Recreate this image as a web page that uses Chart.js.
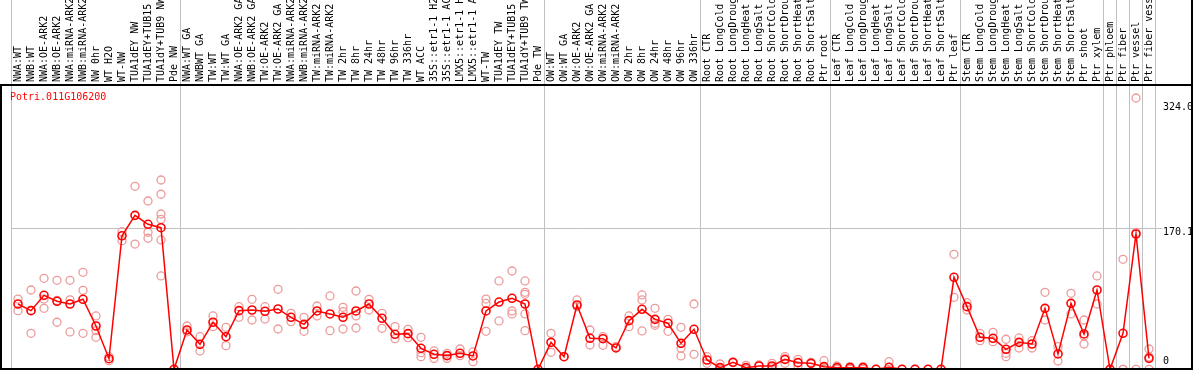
<!DOCTYPE html>
<html>
<head>
<meta charset="utf-8">
<script src="https://cdn.jsdelivr.net/npm/chart.js@4/dist/chart.umd.min.js"></script>
<style>
html, body { margin: 0; padding: 0; background: #fff; }
</style>
</head>
<body>
<canvas id="expChart" width="1194" height="370"></canvas>
<script>
// gene shown in the top left corner
var geneName = 'Potri.011G106200';

var sampleLabels = [
	'NWA:WT', 'NWB:WT', 'NWA:OE-ARK2', 'NWB:OE-ARK2', 'NWA:miRNA-ARK2', 'NWB:miRNA-ARK2',
	'NW 0hr', 'WT H2O', 'WT-NW', 'TUA1dEY NW', 'TUA1dEY+TUB15 NW', 'TUA1dY+TUB9 NW', 'Pde NW',
	'NWA:WT GA', 'NWBWT GA', 'TW:WT', 'TW:WT GA', 'NWA:OE-ARK2 GA', 'NWB:OE-ARK2 GA',
	'TW:OE-ARK2', 'TW:OE-ARK2 GA', 'NWA:miRNA-ARK2', 'NWB:miRNA-ARK2', 'TW:miRNA-ARK2', 'TW:miRNA-ARK2',
	'TW 2hr', 'TW 8hr', 'TW 24hr', 'TW 48hr', 'TW 96hr', 'TW 336hr', 'WT ACC',
	'35S::etr1-1 H2O', '35S::etr1-1 ACC', 'LMX5::etr1-1 H2O', 'LMX5::etr1-1 ACC',
	'WT-TW', 'TUA1dEY TW', 'TUA1dEY+TUB15 TW', 'TUA1dY+TUB9 TW', 'Pde TW',
	'OW:WT', 'OW:WT GA', 'OW:OE-ARK2', 'OW:OE-ARK2 GA', 'OW:miRNA-ARK2', 'OW:miRNA-ARK2',
	'OW 2hr', 'OW 8hr', 'OW 24hr', 'OW 48hr', 'OW 96hr', 'OW 336hr',
	'Root CTR', 'Root LongCold', 'Root LongDrought', 'Root LongHeat', 'Root LongSalt',
	'Root ShortCold', 'Root ShortDrought', 'Root ShortHeat', 'Root ShortSalt', 'Ptr root',
	'Leaf CTR', 'Leaf LongCold', 'Leaf LongDrought', 'Leaf LongHeat', 'Leaf LongSalt',
	'Leaf ShortCold', 'Leaf ShortDrought', 'Leaf ShortHeat', 'Leaf ShortSalt', 'Ptr leaf',
	'Stem CTR', 'Stem LongCold', 'Stem LongDrought', 'Stem LongHeat', 'Stem LongSalt',
	'Stem ShortCold', 'Stem ShortDrought', 'Stem ShortHeat', 'Stem ShortSalt',
	'Ptr shoot', 'Ptr xylem', 'Ptr phloem', 'Ptr fiber', 'Ptr vessel', 'Ptr fiber vessel'
];

var meanValues = [
	78.7, 70.7, 89.2, 82, 78.7, 84.4, 52.2, 12.8, 161, 185.6, 174.8, 170.7, 0,
	47.4, 30.1, 56.7, 39.3, 70.7, 71.5, 69.9, 72.7, 62.7, 54.2, 70.3, 66.7,
	62.7, 70.3, 78.7, 61.5, 42.2, 43, 25.3, 18.1, 16.5, 19.3, 16.1,
	70.3, 81.1, 85.6, 78.7, 0,
	32.5, 15.2, 77.5, 37.4, 36.9, 25.7, 58.7, 72.3, 60.2, 55.5, 31.3, 48.2,
	11.2, 2, 8.4, 2, 4, 4, 12, 8, 7.2, 3.2,
	2, 2, 2, 0, 2.4, 0, 0, 0, 0, 110.9,
	75.5, 38.6, 37.4, 24.1, 32.5, 30.5, 73.5, 18.5, 79.5,
	42.6, 95.6, 0, 43.4, 163.1, 13.2
];

// individual replicates per sample
var replicateValues = [
	[84.7, 70.7], [95.6, 43.4, 71], [109.7, 84.7, 73.5], [107.3, 83, 56.7], [107.3, 83.8, 45],
	[116.9, 95.2, 43.4], [64.3, 46.6, 38.6], [15.2, 10.4], [165.9, 155], [220.6, 151],
	[202.9, 165.2, 158], [228.2, 211, 187.2, 180.8, 155.9, 112.5], [0],
	[52.2, 45], [39.3, 22.1], [64.3, 51.4], [50.6, 28.5], [75.5, 62.7], [84.4, 59.4],
	[75.5, 60.6], [96.4, 48.6], [67.5, 57.5], [62.7, 45.8], [76.3, 64.3], [88.4, 46.6],
	[74.7, 69.5, 48.6], [94.4, 64.3, 49.8], [84.4, 71.5], [67.5, 49.4], [51.4, 36.9],
	[48.2, 38.2], [38.6, 20, 15.2], [22.1, 13.2], [19.3, 13.2], [24.5, 16.5], [20.9, 9.2],
	[84.7, 79.5, 45.8], [106.5, 58.3], [118.5, 70.3, 66.7], [106.5, 92.8, 90.4, 66.7, 46.6], [0],
	[43.4, 20.5], [15.2], [83.6, 75.5], [47.4, 29.3], [39.3, 28.9], [27.3],
	[64.3, 51.4], [89.6, 83.6, 46.2], [73.5, 55.5, 53], [60.2, 45.8], [50.6, 25.3, 16.1], [78.7, 18.1],
	[15.2, 7.2], [6.4, 0], [8.4], [4.8, 0], [5.2], [7.2, 2], [15.2, 7.2], [12, 4], [8.4], [10.4, 0],
	[4, 0], [3.2, 0], [3.2, 0], [0], [9.2, 0], [0], [0], [0], [0], [138.6, 86.8],
	[80.3, 71.5], [43.4, 34.5], [44.6, 33.3], [36.2, 15.2, 19.3], [37.8, 25.7], [34.5, 25.7],
	[92.8, 59.4], [27.3, 10], [91.6, 66.7],
	[59.4, 40.2, 30.5], [112.5, 78.7], [0], [132.6, 0, 0], [327, 165, 0], [24.5, 15, 0]
];

// vertical separators sit before these sample indexes
var groupStarts = [0, 13, 41, 53, 63, 73, 84, 85, 86, 87, 88];

var yTickValues = [0, 170.1, 324.0];
var yTickLabels = ['0', '170.1', '324.0'];

var monoFont = 'DejaVu Sans Mono';
var gridGray = '#c0c0c0';

function buildReplicateSets(){
	var maxReps = 0;
	for (var i in replicateValues) {
		maxReps = Math.max(maxReps, replicateValues[i].length);
	}
	var sets = [];
	for (var j = 0; j < maxReps; j++) {
		sets.push({
			type: 'line',
			data: replicateValues.map(function(r){ return r.length > j ? r[j] : null; }),
			showLine: false,
			borderColor: 'transparent',
			pointRadius: 4,
			pointBorderWidth: 1.3,
			pointBorderColor: '#ec9a9a',
			pointBackgroundColor: 'transparent',
			clip: false
		});
	}
	return sets;
}

var framePlugin = {
	id: 'frame',
	afterDraw: function(chart){
		var ctx = chart.ctx;
		ctx.save();
		ctx.strokeStyle = '#000';
		ctx.lineWidth = 2;
		ctx.beginPath();
		ctx.moveTo(0, 85); ctx.lineTo(1193, 85);
		ctx.moveTo(1, 85); ctx.lineTo(1, 370);
		ctx.moveTo(1192, 0); ctx.lineTo(1192, 370);
		ctx.moveTo(0, 369); ctx.lineTo(1193, 369);
		ctx.stroke();
		ctx.fillStyle = '#ff0000';
		ctx.font = '10px "' + monoFont + '"';
		ctx.textBaseline = 'middle';
		ctx.fillText(geneName, 10, chart.chartArea.top + 12);
		ctx.restore();
	}
};

var expCanvas = document.getElementById('expChart');

var meanSet = {
	type: 'line',
	data: meanValues,
	borderColor: '#ff0000',
	borderWidth: 1.5,
	lineTension: 0,
	fill: false,
	pointRadius: 4,
	pointBorderWidth: 1.6,
	pointBorderColor: '#ff0000',
	pointBackgroundColor: 'transparent',
	clip: false
};

var expChart = new Chart(expCanvas, {
	type: 'line',
	data: {
		labels: sampleLabels,
		datasets: [meanSet].concat(buildReplicateSets())
	},
	plugins: [framePlugin],
	options: {
		responsive: false,
		animation: false,
		devicePixelRatio: 1,
		layout: {
			autoPadding: false,
			padding: { left: 11.5, right: 2, top: 0, bottom: 0.7 }
		},
		plugins: {
			legend: { display: false },
			tooltip: { enabled: false }
		},
		scales: {
			x: {
				type: 'category',
				position: 'top',
				offset: true,
				border: { display: false },
				grid: {
					offset: true,
					drawTicks: true,
					tickLength: 85,
					lineWidth: 1,
					color: function(c){
						if (c.type !== 'tick') return gridGray;
						return groupStarts.indexOf(c.index) >= 0 ? gridGray : 'transparent';
					}
				},
				ticks: {
					autoSkip: false,
					minRotation: 90,
					maxRotation: 90,
					padding: -82,
					labelOffset: 12,
					color: '#000',
					font: { family: monoFont, size: 10 }
				},
				afterFit: function(s){
					s.height = 85;
					s.paddingLeft = 0;
					s.paddingRight = 0;
				}
			},
			y: {
				type: 'linear',
				position: 'right',
				min: 0,
				max: 342.7,
				border: { display: false },
				afterBuildTicks: function(s){
					s.ticks = yTickValues.map(function(v){ return { value: v }; });
				},
				grid: {
					drawTicks: true,
					tickLength: 7,
					color: function(c){
						return c.tick && c.tick.value === 170.1 ? gridGray : 'transparent';
					}
				},
				ticks: {
					padding: 0.5,
					labelOffset: 4,
					color: '#000',
					font: function(c){
						return { family: monoFont, size: 10, lineHeight: c.index === 2 ? 0.6 : 1.2 };
					},
					callback: function(value){
						var k = yTickValues.indexOf(value);
						if (k === 0) return [yTickLabels[k], '', ''];
						if (k === 2) return ['', yTickLabels[k]];
						return yTickLabels[k];
					}
				},
				afterFit: function(s){
					s.width = 36.5;
					s.paddingTop = 0;
					s.paddingBottom = 0;
				}
			}
		}
	}
});
</script>
</body>
</html>
